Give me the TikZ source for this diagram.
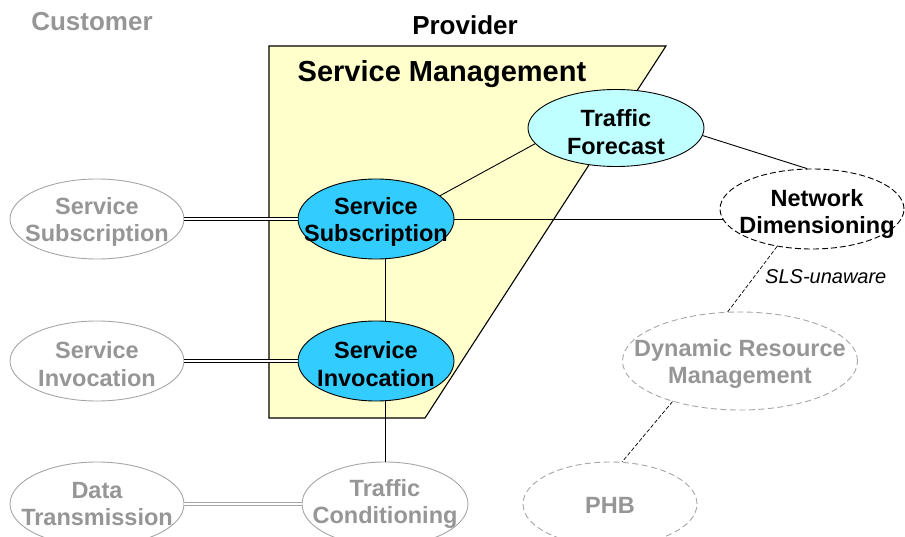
\documentclass[tikz,border=0pt]{standalone}
\usepackage{fontspec}
\setmainfont{Liberation Sans}
\usetikzlibrary{shapes.geometric}
\definecolor{smyellow}{HTML}{FFFFCC}
\definecolor{actblue}{HTML}{33CCFF}
\definecolor{fcast}{HTML}{C0FFFF}
\definecolor{dimtext}{HTML}{969696}
\definecolor{dimline}{HTML}{A6A6A6}
\begin{document}
\begin{tikzpicture}[x=1pt,y=-1pt,
  oval/.style={ellipse, inner sep=0pt, line width=0.9pt},
  active/.style={oval, draw=black, fill=actblue},
  forecast/.style={oval, draw=black, fill=fcast},
  plan/.style={oval, draw=black, fill=white, dash pattern=on 6pt off 3pt},
  ext/.style={oval, draw=dimline, fill=white},
  extplan/.style={oval, draw=dimline, fill=white, dash pattern=on 6pt off 3.5pt},
  lbl/.style={align=center, inner sep=0pt, yshift=-3pt, font=\fontsize{23.5}{27.5}\selectfont\bfseries},
  extlbl/.style={lbl, text=dimtext},
  title/.style={inner sep=0pt, font=\fontsize{26}{30}\selectfont\bfseries},
  link/.style={draw=black, line width=0.9pt},
  dbl/.style={draw=black, line width=0.9pt, double=white, double distance=1.6pt},
  dblgray/.style={draw=dimline, line width=0.9pt, double=white, double distance=1.6pt},
  weak/.style={draw=black, line width=0.7pt, dash pattern=on 4pt off 2pt}]

\useasboundingbox (0,0) rectangle (905,537);

% Service Management area
\path[fill=smyellow, draw=black, line width=1.1pt]
  (269,46) -- (666,46) -- (425,418) -- (269,418) -- cycle;

% headings
\node[title, text=dimtext] (cust) at (92,22) {Customer};
\node[title] (prov) at (465,25) {Provider};
\node[inner sep=0pt, font=\fontsize{29}{34}\selectfont\bfseries] (sm) at (442,74) {Service Management};

% functional blocks
\node[ext, minimum width=174pt, minimum height=80pt] (lss) at (97,219) {};
\node[ext, minimum width=174pt, minimum height=80pt] (lsi) at (97,361) {};
\node[ext, minimum width=174pt, minimum height=84pt] (dt) at (97,504) {};
\node[active, minimum width=156pt, minimum height=80pt] (ss) at (376,219) {};
\node[active, minimum width=156pt, minimum height=80pt] (si) at (376,361) {};
\node[ext, minimum width=166pt, minimum height=84pt] (tc) at (385,504) {};
\node[forecast, minimum width=176pt, minimum height=77pt] (tf) at (616,128) {};
\node[plan, minimum width=184pt, minimum height=80pt] (nd) at (812,209) {};
\node[extplan, minimum width=235pt, minimum height=98pt] (drm) at (740,361) {};
\node[extplan, minimum width=174pt, minimum height=84pt] (phb) at (610,504) {};

% connections
\draw[dbl] (lss.east) -- (ss.west);
\draw[dbl] (lsi.east) -- (si.west);
\draw[dblgray] (dt.east) -- (tc.west);
\draw[link] (ss.south -| tc.north) -- (si.north -| tc.north);
\draw[link] (si.south -| tc.north) -- (tc.north);
\draw[link] (ss.20) -- (tf.191);
\draw[link] (tf.355) -- (nd.97);
\draw[link] (ss.east) -- ([xshift=3pt]nd.west |- ss.east);
\draw[weak] (nd.227) -- (drm.104);
\draw[weak] (drm.211) -- (phb.74);

% labels
\node[extlbl] (lss-t) at (lss) {Service\\Subscription};
\node[extlbl] (lsi-t) at (lsi) {Service\\Invocation};
\node[extlbl] (dt-t) at ([yshift=3pt]dt.center) {Data\\Transmission};
\node[lbl] (ss-t) at (ss) {Service\\Subscription};
\node[lbl] (si-t) at (si) {Service\\Invocation};
\node[extlbl] (tc-t) at ([yshift=3pt]tc.center) {Traffic\\Conditioning};
\node[lbl] (tf-t) at ([yshift=-1pt]tf.center) {Traffic\\Forecast};
\node[lbl] (nd-t) at ([xshift=5pt,yshift=-2pt]nd.center) {Network\\Dimensioning};
\node[extlbl] (drm-t) at (drm) {Dynamic Resource\\Management};
\node[extlbl] (phb-t) at ([yshift=2pt]phb.center) {PHB};
\node[inner sep=0pt, anchor=west, font=\fontsize{20}{24}\selectfont\itshape] (sls) at (765,277) {SLS-unaware};

\end{tikzpicture}
\end{document}
